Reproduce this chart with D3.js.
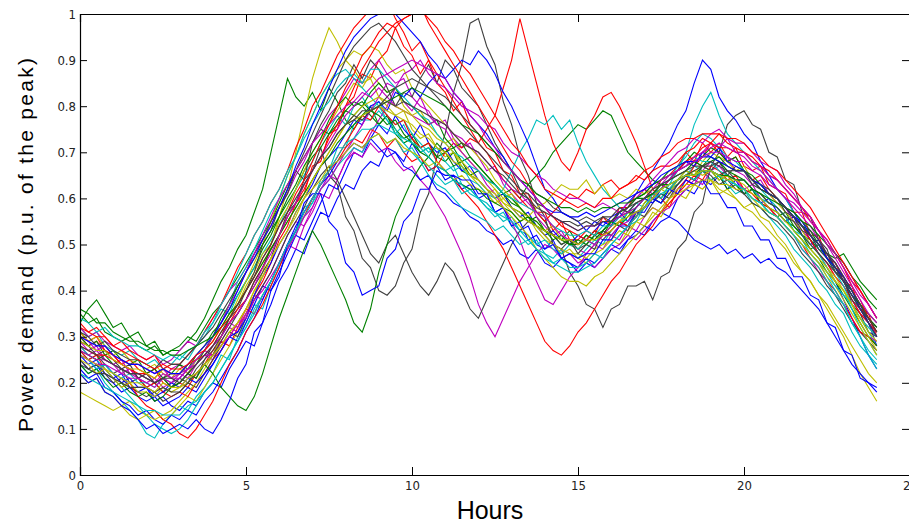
<!DOCTYPE html>
<html>
<head>
<meta charset="utf-8">
<script src="https://cdn.jsdelivr.net/npm/d3@7"></script>
<style>
  body { margin: 0; background: #fff; }
  .tick text { font-family: "Liberation Sans Narrow", "Arial Narrow", "DejaVu Sans Condensed", sans-serif; font-size: 13px; fill: #222; }
</style>
</head>
<body>
<div id="graphDiv"></div>
<script>
// hours, every quarter hour (0 .. 24)
var hours = d3.range(0, 24.001, 0.25);

// demand profiles, p.u. of the peak x100 (rows of 3 hours)
var b1 = [26,24,25,22,21,22,19,18,19,16,17,15, 14,16,15,18,20,19,23,26,29,28,33,37, 42,45,49,48,53,57,56,60,63,62,66,68, 67,71,70,68,72,69,66,67,64,65,62,63, 60,61,57,58,55,53,54,50,49,51,47,46, 44,46,45,47,49,48,51,53,52,55,57,56, 60,62,61,64,63,65,62,64,61,62,59,60, 57,55,56,52,50,51,47,45,42,40,37,33, 28];
var g1 = [33,36,38,35,32,33,30,31,28,29,26,27, 27,29,31,34,38,42,45,49,52,57,62,70, 78,86,82,80,83,79,84,81,77,75,78,80, 76,78,74,72,73,70,71,69,68,70,66,65, 64,62,60,61,58,57,55,56,53,52,51,53, 50,52,51,53,55,54,57,56,59,61,60,62, 63,65,64,66,64,65,62,63,61,62,59,58, 56,57,54,52,49,50,47,45,42,40,37,34, 31];
var r1 = [30,28,29,27,26,24,25,23,22,23,20,19, 20,19,22,24,27,29,28,32,35,39,42,46, 51,54,59,61,67,68,74,75,80,82,87,86, 90,92,97,93,91,87,90,85,83,79,81,76, 74,71,70,66,65,61,61,57,57,53,55,51, 51,53,52,56,54,58,58,61,62,60,64,65, 67,70,68,72,70,72,69,71,67,66,67,63, 62,61,57,57,52,52,47,46,42,41,36,35, 30];
var c1 = [24,22,23,20,18,16,14,12,9,8,11,13, 15,14,17,19,22,26,25,30,33,37,36,41, 45,50,52,58,59,64,66,71,71,76,77,77, 79,77,74,76,72,70,71,68,66,67,63,62, 60,58,56,57,54,52,50,51,48,47,49,48, 47,49,51,50,53,55,54,57,58,60,59,62, 63,65,67,66,64,65,63,61,62,59,58,56, 54,52,49,47,45,42,40,37,35,31,28,26, 24];
var m1 = [29,27,28,25,24,25,22,21,22,20,21,23, 24,22,25,27,26,30,33,32,36,39,38,42, 46,50,49,54,57,61,60,64,68,71,70,74, 77,80,84,81,79,82,78,76,77,73,71,72, 69,66,67,63,61,59,60,56,54,52,53,50, 49,48,50,49,52,51,54,53,56,58,57,60, 62,64,63,66,68,67,69,66,65,63,64,61, 59,58,55,53,51,48,46,43,41,38,35,33, 31];
var y1 = [22,20,21,18,17,15,16,14,13,14,12,13, 15,17,16,19,22,25,28,31,35,39,44,50, 56,62,70,78,86,92,97,94,90,88,85,86, 82,80,78,79,75,73,74,71,69,70,67,65, 63,61,62,59,57,55,56,53,51,50,48,49, 47,46,48,49,51,50,53,55,54,57,56,59, 61,60,63,62,64,61,62,60,58,59,56,55, 52,50,47,44,42,39,36,33,30,26,22,19, 16];
var k1 = [27,25,26,24,22,23,20,21,19,20,18,19, 21,20,23,25,28,30,33,35,38,41,44,47, 52,57,59,64,66,71,65,63,56,53,47,45, 40,39,41,46,49,57,61,69,74,83,89,98, 99,93,89,81,76,69,65,59,56,50,49,44, 41,37,36,32,36,37,41,41,42,38,43,44, 49,51,57,59,67,70,76,78,79,76,75,70, 69,64,63,57,56,51,49,44,43,37,35,31, 30];
var b2 = [25,23,24,21,20,18,19,17,16,17,15,16, 17,19,18,21,24,27,30,29,33,37,41,40, 44,48,52,51,55,59,63,62,66,70,69,73, 76,74,78,75,73,76,72,70,71,68,66,67, 64,62,60,61,58,56,57,54,52,53,51,50, 52,51,53,55,54,57,59,61,64,66,69,72, 76,79,85,90,88,82,79,77,74,72,68,65, 62,60,57,54,51,48,45,42,38,34,30,26, 23];
var g2 = [30,28,29,26,27,25,24,25,22,23,21,22, 24,23,26,28,31,33,36,39,42,45,49,52, 56,59,62,66,69,71,74,76,79,78,80,78, 76,78,75,73,74,71,72,69,70,67,68,65, 66,64,63,61,62,60,63,65,67,70,72,74, 76,75,77,79,78,74,70,68,66,64,63,62, 64,66,65,67,66,64,65,63,61,62,60,58, 57,55,54,52,51,49,48,47,48,45,42,40, 38];
var r2 = [31,29,30,27,26,24,23,21,19,20,18,17, 18,17,20,22,25,27,30,33,36,35,39,42, 46,50,53,57,60,63,66,68,71,73,72,75, 74,71,73,70,68,69,66,67,70,72,71,73, 72,75,78,84,90,99,92,85,78,72,68,66, 70,75,78,82,83,80,76,72,67,62,60,58, 62,64,67,69,72,70,68,69,66,64,65,62, 60,58,56,54,51,48,46,43,41,38,35,33, 31];
var c2 = [32,30,31,28,27,26,27,25,24,25,23,24, 26,25,28,30,33,36,35,39,42,45,48,51, 54,58,62,65,68,72,75,78,76,80,82,79, 81,78,76,77,74,72,70,71,68,66,67,64, 63,61,60,62,66,70,73,77,76,78,75,77, 72,68,65,62,60,58,57,59,58,61,60,63, 66,70,76,80,83,78,74,72,70,68,66,64, 62,60,57,55,52,49,47,44,41,37,34,31, 28];
var m2 = [28,26,27,25,24,22,23,21,20,21,19,20, 22,21,24,26,25,29,32,31,35,38,41,44, 48,52,55,54,58,62,65,64,68,70,69,72, 70,71,68,66,67,64,62,59,56,52,48,43, 37,33,30,34,38,42,45,48,50,49,47,48, 46,47,45,47,49,50,52,51,53,55,57,58, 60,62,64,63,66,67,65,64,62,63,60,58, 56,54,52,49,47,44,42,39,37,34,31,30, 29];
var y2 = [31,29,30,28,26,27,25,24,23,24,22,21, 23,22,25,27,29,32,34,37,41,44,48,50, 55,58,62,66,70,73,76,79,82,85,84,87, 85,83,84,80,78,79,76,74,72,73,70,68, 66,64,62,60,61,58,56,55,53,54,51,50, 49,51,50,52,54,55,57,56,59,61,62,61, 64,66,65,68,70,69,68,66,67,64,63,61, 59,57,55,53,50,48,45,43,40,37,34,32, 30];
var k2 = [25,23,24,22,20,21,19,18,17,18,16,17, 18,20,19,22,25,28,31,30,34,38,41,44, 48,52,55,58,62,65,67,64,60,56,52,48, 46,50,52,48,44,41,39,42,46,44,40,36, 34,38,42,46,50,53,55,54,52,50,49,51, 49,50,52,51,53,55,54,56,58,60,59,61, 63,65,64,66,65,63,64,62,61,59,58,56, 55,53,51,48,46,44,41,39,36,33,31,29, 27];
var b3 = [23,21,22,19,18,16,15,13,14,12,11,13, 12,14,13,16,18,21,24,27,31,34,38,42, 46,50,54,57,60,63,65,68,70,72,71,73, 71,69,70,67,66,64,65,62,61,59,58,56, 55,53,52,50,51,48,47,49,46,45,47,46, 45,47,46,48,50,49,51,52,54,53,55,56, 55,53,51,50,49,50,48,49,47,48,46,47, 45,44,42,40,38,36,33,30,27,24,22,20, 19];
var g3 = [35,33,34,31,30,29,30,28,27,28,26,27, 28,30,29,32,35,37,40,43,46,49,52,55, 59,63,66,69,72,75,74,77,79,81,80,83, 85,83,84,81,80,78,76,77,73,71,72,69, 67,65,63,61,59,58,56,54,53,52,50,51, 50,51,53,52,55,56,58,60,61,63,64,66, 67,68,70,69,71,70,68,69,66,65,63,61, 60,58,56,54,53,50,48,46,43,40,37,35, 33];
var r3 = [27,25,26,23,21,19,20,17,15,14,12,11, 9,8,10,13,16,20,24,27,31,34,37,41, 45,49,53,56,60,63,66,69,72,75,78,77, 80,78,76,77,73,71,72,68,66,64,62,60, 58,55,52,49,45,41,37,33,29,27,26,28, 31,33,36,39,42,44,47,50,52,54,57,59, 61,63,65,64,67,66,64,65,62,61,59,58, 56,54,52,50,47,45,42,40,37,34,31,30, 28];
var c3 = [28,26,25,23,21,19,17,15,13,11,10,9, 10,12,15,18,20,23,26,29,32,36,39,42, 46,49,53,56,59,62,64,67,69,71,70,73, 74,72,73,70,71,68,67,65,63,64,61,62, 60,58,57,55,56,53,52,50,51,49,48,50, 49,51,50,53,55,54,57,58,60,61,63,64, 67,69,72,74,73,71,69,68,66,64,62,60, 58,56,53,51,48,46,43,40,37,33,30,27, 25];
var m3 = [32,30,31,29,28,27,28,26,25,26,24,25, 27,29,28,31,34,37,40,42,45,48,51,54, 58,61,65,68,72,75,78,80,83,86,85,88, 90,87,85,86,82,80,79,76,75,72,70,68, 66,63,61,58,55,51,46,42,38,37,40,43, 45,48,50,52,54,56,58,60,62,61,63,65, 66,68,67,70,72,71,73,70,69,67,66,64, 62,60,58,56,54,51,48,46,43,40,37,34, 32];
var y3 = [18,17,16,15,14,15,13,12,13,12,13,14, 16,18,20,23,26,30,34,38,42,46,50,55, 60,65,69,74,78,82,85,88,90,92,91,93, 92,89,87,88,84,82,80,78,76,74,72,71, 69,67,64,62,60,58,56,54,52,50,49,48, 48,47,49,50,51,53,52,55,56,58,57,60, 61,62,63,62,64,62,61,60,58,57,55,53, 51,49,46,44,42,39,37,34,31,28,25,22, 20];
var k3 = [29,28,26,27,25,23,24,21,22,20,21,19, 20,22,21,25,27,30,34,36,40,44,50,53, 58,61,66,64,72,76,79,83,85,89,86,90, 88,84,80,83,82,86,89,85,90,88,84,82, 80,76,72,69,66,62,60,57,55,52,50,51, 48,50,49,53,52,54,53,57,56,59,61,60, 63,65,64,67,66,68,65,67,66,63,62,61, 60,57,56,53,52,49,47,44,42,38,36,34, 32];
var b4 = [26,25,23,24,22,20,21,19,19,17,18,20, 19,21,20,22,24,27,30,31,34,39,43,46, 50,53,57,60,63,67,69,71,74,77,76,80, 81,79,83,82,84,82,85,87,86,88,90,89, 92,90,87,83,80,76,72,67,62,60,57,56, 55,53,55,54,56,57,55,58,60,59,62,64, 66,68,67,70,69,71,68,67,66,64,62,61, 60,58,56,55,52,50,48,45,43,40,36,33, 30];
var g4 = [24,22,23,21,19,20,18,17,18,16,17,19, 20,22,21,24,22,19,17,15,14,17,22,28, 34,39,44,49,53,50,46,42,38,33,31,36, 44,50,56,60,64,67,69,72,70,71,68,69, 67,65,63,61,60,58,56,55,53,52,51,50, 51,50,52,53,55,54,56,58,60,61,62,64, 65,66,68,67,69,68,66,65,64,62,61,59, 58,56,53,51,49,47,44,42,39,36,33,30, 28];
var r4 = [33,31,32,30,28,29,27,26,25,26,23,24, 24,26,28,31,34,37,41,45,48,52,55,59, 62,66,71,75,80,83,87,91,94,97,99,101, 100,103,99,96,92,94,90,87,84,81,78,75, 72,70,67,64,62,60,58,57,55,57,59,61, 60,62,61,63,64,62,63,65,64,66,67,67, 68,70,71,73,72,74,72,71,70,69,67,66, 64,62,60,58,55,53,51,48,45,42,40,37, 34];
var c4 = [26,25,23,24,22,21,22,20,20,19,21,20, 21,23,25,27,30,33,37,42,45,49,53,57, 60,65,69,74,78,82,85,87,88,86,84,82, 80,77,75,72,70,68,65,63,62,60,58,57, 56,55,53,54,52,50,51,49,48,46,47,45, 45,46,48,47,50,52,54,55,58,61,62,64, 66,67,69,68,68,66,65,64,64,62,60,59, 58,56,53,52,50,48,45,42,40,36,32,29, 26];
var m4 = [30,29,27,28,26,25,24,24,23,22,23,21, 22,23,24,26,26,28,30,33,34,38,40,43, 46,49,52,56,58,62,64,67,70,73,76,79, 82,85,84,87,88,90,87,85,84,82,80,79, 78,76,75,72,70,69,67,65,64,62,61,60, 60,59,58,59,58,57,59,60,62,64,66,68, 70,71,73,72,74,75,73,72,72,70,68,67, 66,63,61,58,56,53,51,48,46,43,40,37, 34];
var y4 = [25,24,22,23,21,19,20,18,18,17,19,18, 19,20,22,24,26,28,31,33,36,40,43,47, 50,53,56,60,62,64,67,68,70,72,71,73, 74,72,73,71,70,69,67,68,66,64,65,63, 62,61,59,60,58,57,56,58,59,61,63,62, 62,64,61,63,60,61,60,62,61,62,63,62, 64,65,66,65,66,64,65,63,62,60,59,57, 56,54,52,50,48,46,43,41,38,35,32,29, 26];
var k4 = [31,30,28,29,27,26,25,25,24,23,25,24, 24,26,28,30,32,35,38,41,44,48,51,55, 58,62,66,70,74,78,82,86,90,93,95,97, 98,96,94,91,88,86,84,82,80,78,76,74, 72,70,68,66,64,62,61,59,58,56,55,55, 54,55,54,56,56,58,57,59,60,61,63,62, 64,65,64,66,66,65,66,64,64,62,61,59, 58,56,55,52,50,48,46,44,42,39,36,34, 31];
var b5 = [22,20,21,18,17,15,14,12,10,11,9,10, 11,10,12,10,9,12,16,21,24,31,33,40, 43,50,53,59,61,61,55,53,46,44,39,40, 41,47,49,55,57,62,62,66,65,65,64,64, 61,61,57,58,54,55,51,52,49,50,47,48, 47,48,48,51,51,54,54,57,57,60,59,62, 61,64,63,64,61,61,58,58,54,54,51,51, 47,47,43,43,39,38,33,32,27,26,21,20, 18];
var g5 = [27,26,25,26,24,23,22,22,21,20,21,19, 20,22,24,27,30,34,37,41,44,47,50,53, 56,60,63,67,70,73,77,80,82,80,81,79, 78,76,77,74,72,70,69,67,66,64,63,62, 62,60,59,58,57,55,56,54,53,51,52,50, 50,52,51,53,55,57,58,60,61,63,64,65, 66,67,68,67,68,69,67,66,66,64,62,61, 60,58,56,54,52,50,47,45,42,39,37,34, 32];
var r5 = [28,27,26,26,25,24,23,22,22,21,23,22, 22,24,25,26,28,31,33,36,38,42,45,49, 52,56,59,62,66,69,73,76,80,84,88,91, 94,96,98,99,100,102,98,95,92,89,86,83, 80,77,74,71,68,66,63,60,58,56,54,53, 52,51,53,52,53,55,54,56,58,60,62,64, 66,68,69,71,72,71,71,70,70,68,67,65, 64,62,60,58,56,53,50,48,45,41,38,34, 31];
var c5 = [34,33,31,32,30,29,28,28,27,26,25,26, 25,27,28,31,33,37,40,44,48,52,55,59, 62,66,69,73,76,79,81,84,86,87,85,88, 88,86,84,82,80,78,77,74,72,70,69,67, 66,64,63,61,60,59,58,57,56,54,53,52, 52,53,52,54,54,56,55,57,58,60,61,62, 64,65,64,66,66,65,64,63,62,60,59,57, 56,54,52,50,48,46,44,41,39,37,34,32, 30];
var m5 = [26,25,24,24,23,22,21,21,20,19,21,20, 21,23,25,27,30,33,37,40,44,48,52,56, 60,63,66,69,72,74,76,78,80,81,83,82, 84,82,80,79,78,77,76,77,76,74,73,71, 70,68,66,64,62,61,59,57,56,54,52,51, 50,51,50,52,52,54,55,57,58,60,62,64, 66,67,69,70,71,72,71,70,70,68,67,65, 64,62,60,58,56,53,50,47,44,41,38,35, 33];
var y5 = [29,28,27,27,25,24,23,23,22,21,23,22, 22,24,26,28,30,32,35,37,40,43,46,49, 52,55,58,61,64,67,70,73,76,78,80,81, 82,81,80,79,78,76,75,73,72,70,68,66, 64,62,60,58,56,54,52,49,47,45,43,42, 42,41,43,44,46,48,50,52,54,56,58,60, 62,63,63,64,64,63,63,62,62,60,58,57, 56,54,52,50,48,46,44,42,40,37,34,31, 29];
var k5 = [24,23,22,22,21,20,19,19,19,18,19,18, 18,20,22,24,26,29,32,35,38,42,45,49, 52,56,59,63,66,69,71,74,76,78,77,79, 80,82,84,85,86,85,84,83,82,80,78,76, 74,72,70,68,66,64,63,61,60,58,57,56, 55,56,55,56,55,56,57,57,58,60,62,63, 64,65,66,67,67,68,67,66,66,64,63,62, 60,58,57,55,53,51,48,46,43,40,37,34, 31];
var b6 = [30,29,28,28,26,25,24,24,23,22,23,22, 22,24,26,28,30,33,36,40,44,47,51,54, 58,62,67,71,76,80,84,88,92,95,97,99, 100,102,100,98,96,94,91,89,86,83,81,78, 76,74,71,69,66,64,62,60,58,57,57,56, 56,57,56,57,58,59,60,61,62,63,65,66, 67,68,68,69,69,68,67,66,66,64,63,61, 60,58,56,54,52,50,47,45,42,39,36,33, 30];
var g6 = [36,35,33,33,31,30,29,29,28,27,27,26, 26,27,28,29,30,32,35,37,40,43,46,49, 52,55,58,61,64,67,69,72,74,76,78,79, 80,81,82,83,84,83,82,81,80,78,76,75, 74,72,70,68,66,64,63,61,60,59,58,58, 57,58,57,58,58,59,59,60,60,61,63,63, 64,65,65,66,66,65,65,64,64,62,61,60, 59,58,57,55,54,52,50,48,46,43,41,38, 36];
var r6 = [32,31,30,30,28,27,26,25,24,23,24,23, 23,24,26,27,29,32,34,37,40,43,47,50, 54,57,61,64,68,72,76,80,84,87,91,93, 96,98,97,99,100,101,99,97,94,92,89,87, 84,81,78,75,72,70,67,65,62,61,60,59, 58,59,58,60,60,62,63,64,66,67,69,70, 72,73,73,74,74,74,73,73,72,70,69,67, 66,64,62,60,58,55,52,49,46,43,40,37, 34];
var c6 = [22,21,20,19,18,17,16,15,14,14,13,13, 13,15,16,18,20,23,26,29,32,35,39,42, 46,50,53,57,60,63,66,69,72,73,75,75, 76,75,74,73,72,71,69,67,66,64,63,61, 60,59,57,56,55,53,51,49,47,46,45,44, 44,45,46,48,50,52,54,56,58,60,62,63, 64,65,65,66,66,65,64,63,62,60,59,57, 56,54,52,49,47,45,42,39,37,33,30,26, 23];
var m6 = [27,26,25,25,24,23,22,22,21,20,22,21, 21,23,24,26,28,30,33,35,38,41,45,48, 52,56,59,63,66,69,72,75,78,80,82,84, 86,87,88,89,90,89,88,87,86,83,81,78, 76,73,71,68,66,64,62,60,58,56,55,54, 53,54,54,55,55,56,57,58,60,62,64,65, 66,67,68,69,70,70,69,68,68,66,65,63, 62,60,59,57,55,53,50,48,45,42,39,37, 34];
var y6 = [26,25,24,23,22,21,20,20,19,18,20,19, 19,21,22,24,26,28,31,33,36,40,43,47, 50,53,57,60,64,67,70,73,76,77,78,79, 80,79,78,77,76,74,73,71,70,68,67,65, 64,62,61,59,58,56,55,54,53,52,51,51, 50,51,51,52,53,55,56,57,58,60,62,63, 64,65,65,66,66,65,64,64,63,61,60,58, 57,55,53,51,49,47,45,42,40,37,33,30, 27];
var k6 = [28,27,26,25,24,23,22,22,21,20,21,21, 20,22,24,26,28,31,34,37,40,43,47,50, 54,57,60,63,66,69,71,74,76,77,79,79, 80,81,80,81,80,79,78,77,76,74,72,71, 70,68,66,65,63,61,60,58,57,56,55,54, 53,54,54,55,55,57,58,59,60,62,63,64, 65,66,67,67,68,67,66,66,66,64,62,61, 60,58,56,54,52,50,48,45,42,39,36,33, 30];

var profiles = [b1,g1,r1,c1,m1,y1,k1, b2,g2,r2,c2,m2,y2,k2, b3,g3,r3,c3,m3,y3,k3,
                b4,g4,r4,c4,m4,y4,k4, b5,g5,r5,c5,m5,y5,k5, b6,g6,r6,c6,m6,y6,k6];

// old matlab colour order
var lineColors = ["#0000ff", "#008000", "#ff0000", "#00bfbf", "#bf00bf", "#bfbf00", "#404040"];

var xTicks = [0, 5, 10, 15, 20, 25];
var yTicks = [0, 0.1, 0.2, 0.3, 0.4, 0.5, 0.6, 0.7, 0.8, 0.9, 1];

var width = 909, height = 524;
var margin = {top: 14, right: -1, bottom: 49, left: 80};

var svg = d3.select("#graphDiv")
  .append("svg")
    .attr("width", width)
    .attr("height", height);

var x = d3.scaleLinear()
  .domain([0, 25])
  .range([margin.left, width - margin.right]);

var y = d3.scaleLinear()
  .domain([0, 1])
  .range([height - margin.bottom, margin.top]);

svg.append("clipPath")
  .attr("id", "plotClip")
  .append("rect")
    .attr("x", x(0))
    .attr("y", y(1))
    .attr("width", x(25) - x(0))
    .attr("height", y(0) - y(1));

var line = d3.line()
  .defined(function (d, i) { return i < hours.length; })
  .x(function (d, i) { return x(hours[i]); })
  .y(function (d) { return y(d / 100); });

svg.append("g")
  .attr("clip-path", "url(#plotClip)")
  .selectAll("path")
  .data(profiles)
  .enter()
  .append("path")
    .attr("d", line)
    .attr("fill", "none")
    .attr("stroke", function (d, i) { return lineColors[i % lineColors.length]; })
    .attr("stroke-width", 1.1);

// axes, ticks pointing inwards like matlab
var fmt = d3.format("~g");

svg.append("g")
  .attr("transform", "translate(" + x(0) + ",0)")
  .call(d3.axisLeft(y).tickValues(yTicks).tickFormat(fmt).tickSize(-7).tickPadding(4));

svg.append("g")
  .attr("transform", "translate(" + x(25) + ",0)")
  .call(d3.axisRight(y).tickValues(yTicks).tickFormat("").tickSize(-8));

svg.append("g")
  .attr("transform", "translate(0," + y(0) + ")")
  .call(d3.axisBottom(x).tickValues(xTicks).tickFormat(fmt).tickSize(-8).tickPadding(6));

svg.append("g")
  .attr("transform", "translate(0," + y(1) + ")")
  .call(d3.axisTop(x).tickValues(xTicks).tickFormat("").tickSize(-8));

svg.selectAll(".domain").attr("stroke", "#000").attr("stroke-width", 1.2);
svg.selectAll(".tick line").attr("stroke", "#000");
svg.selectAll(".tick").filter(function (d) { return d === 0 || d === 1; })
  .select("line").attr("stroke-opacity", 0);

//X Label
svg.append("text")
  .attr("x", 490)
  .attr("y", 519)
  .style("text-anchor", "middle")
  .style("font-family", "'Liberation Sans Narrow', 'Arial Narrow', sans-serif")
  .style("font-size", "25px")
  .text("Hours");

//Y Label
svg.append("text")
  .attr("transform", "translate(33,245) rotate(-90)")
  .attr("textLength", 374)
  .attr("lengthAdjust", "spacing")
  .style("text-anchor", "middle")
  .style("font-family", "'Liberation Sans', Arial, sans-serif")
  .style("font-size", "21px")
  .text("Power demand (p.u. of the peak)");
</script>
</body>
</html>
